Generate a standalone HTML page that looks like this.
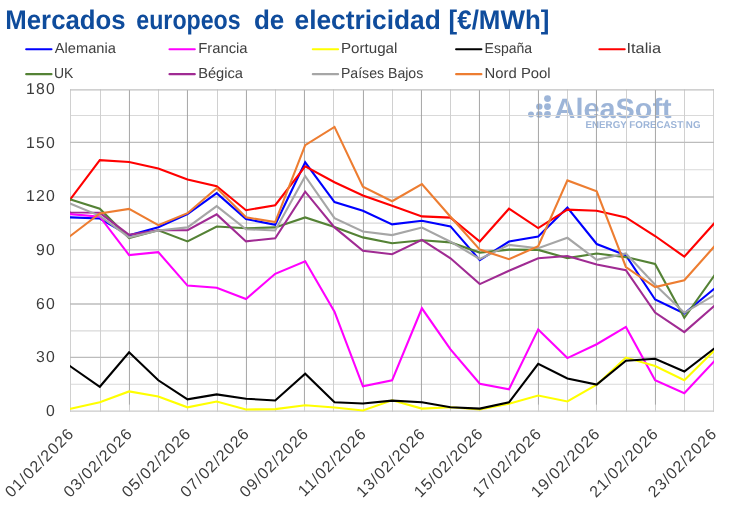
<!DOCTYPE html>
<html><head><meta charset="utf-8"><title>Mercados europeos de electricidad</title>
<style>
html,body{margin:0;padding:0;background:#fff;}
body{width:730px;height:509px;overflow:hidden;font-family:"Liberation Sans",sans-serif;}
svg{display:block;}
svg text{font-family:"Liberation Sans",sans-serif;text-rendering:geometricPrecision;}
</style></head><body>
<svg width="730" height="509" viewBox="0 0 730 509">
<rect width="730" height="509" fill="#ffffff"/>
<text y="29" font-size="26.8" font-weight="bold" fill="#0F4C9C"><tspan x="5.3" textLength="120.4" lengthAdjust="spacingAndGlyphs">Mercados</tspan> <tspan x="136.3" textLength="104.4" lengthAdjust="spacingAndGlyphs">europeos</tspan> <tspan x="253.9" textLength="30.4" lengthAdjust="spacingAndGlyphs">de</tspan> <tspan x="294.5" textLength="146.3" lengthAdjust="spacingAndGlyphs">electricidad</tspan> <tspan x="448.6" textLength="100.8" lengthAdjust="spacingAndGlyphs">[€/MWh]</tspan> </text>
<g fill="#9DB5D8"><circle cx="531.0" cy="114.5" r="3.0"/><circle cx="539.3" cy="106.6" r="3.2"/><circle cx="539.3" cy="114.5" r="3.2"/><circle cx="547.5" cy="98.6" r="3.4"/><circle cx="547.5" cy="106.6" r="3.4"/><circle cx="547.5" cy="114.5" r="3.4"/><text x="554.6" y="118.2" font-size="28" font-weight="bold" textLength="117" lengthAdjust="spacingAndGlyphs">AleaSoft</text><text x="585.5" y="127.8" font-size="9.9" font-weight="bold" textLength="115" lengthAdjust="spacingAndGlyphs">ENERGY FORECASTING</text></g>
<g fill="none"><line x1="70.0" x2="714.0" y1="115.44" y2="115.44" stroke="#D9D9D9" stroke-width="1.10"/><line x1="70.0" x2="714.0" y1="169.68" y2="169.68" stroke="#D9D9D9" stroke-width="1.10"/><line x1="70.0" x2="714.0" y1="223.10" y2="223.10" stroke="#D9D9D9" stroke-width="1.40"/><line x1="70.0" x2="714.0" y1="277.08" y2="277.08" stroke="#D9D9D9" stroke-width="1.40"/><line x1="70.0" x2="714.0" y1="330.86" y2="330.86" stroke="#D9D9D9" stroke-width="1.40"/><line x1="70.0" x2="714.0" y1="384.25" y2="384.25" stroke="#D9D9D9" stroke-width="1.20"/><line x1="70.50" x2="70.50" y1="89.2" y2="411.8" stroke="#D0D0D0" stroke-width="1"/><line x1="100.50" x2="100.50" y1="89.2" y2="411.8" stroke="#D0D0D0" stroke-width="1"/><line x1="158.50" x2="158.50" y1="89.2" y2="411.8" stroke="#D0D0D0" stroke-width="1"/><line x1="217.50" x2="217.50" y1="89.2" y2="411.8" stroke="#D0D0D0" stroke-width="1"/><line x1="275.50" x2="275.50" y1="89.2" y2="411.8" stroke="#D0D0D0" stroke-width="1"/><line x1="333.50" x2="333.50" y1="89.2" y2="411.8" stroke="#D0D0D0" stroke-width="1"/><line x1="392.50" x2="392.50" y1="89.2" y2="411.8" stroke="#D0D0D0" stroke-width="1"/><line x1="450.50" x2="450.50" y1="89.2" y2="411.8" stroke="#D0D0D0" stroke-width="1"/><line x1="509.50" x2="509.50" y1="89.2" y2="411.8" stroke="#D0D0D0" stroke-width="1"/><line x1="567.50" x2="567.50" y1="89.2" y2="411.8" stroke="#D0D0D0" stroke-width="1"/><line x1="626.50" x2="626.50" y1="89.2" y2="411.8" stroke="#D0D0D0" stroke-width="1"/><line x1="684.50" x2="684.50" y1="89.2" y2="411.8" stroke="#D0D0D0" stroke-width="1"/><line x1="713.50" x2="713.50" y1="89.2" y2="411.8" stroke="#D0D0D0" stroke-width="1"/><line x1="70.0" x2="714.0" y1="89.78" y2="89.78" stroke="#C0C0C0" stroke-width="1.30"/><line x1="70.0" x2="714.0" y1="142.43" y2="142.43" stroke="#BCBCBC" stroke-width="1.15"/><line x1="70.0" x2="714.0" y1="197.07" y2="197.07" stroke="#BCBCBC" stroke-width="1.40"/><line x1="70.0" x2="714.0" y1="249.85" y2="249.85" stroke="#BCBCBC" stroke-width="1.40"/><line x1="70.0" x2="714.0" y1="304.00" y2="304.00" stroke="#BCBCBC" stroke-width="1.50"/><line x1="70.0" x2="714.0" y1="357.37" y2="357.37" stroke="#BCBCBC" stroke-width="1.25"/><line x1="70.0" x2="714.0" y1="411.15" y2="411.15" stroke="#CACACA" stroke-width="1.30"/><line x1="129.50" x2="129.50" y1="404.8" y2="411.8" stroke="#D0D0D0" stroke-width="1"/><line x1="129.45" x2="129.45" y1="90.2" y2="404.8" stroke="#9C9C9C" stroke-width="0.9"/><line x1="187.50" x2="187.50" y1="404.8" y2="411.8" stroke="#D0D0D0" stroke-width="1"/><line x1="187.45" x2="187.45" y1="90.2" y2="404.8" stroke="#9C9C9C" stroke-width="0.9"/><line x1="246.50" x2="246.50" y1="404.8" y2="411.8" stroke="#D0D0D0" stroke-width="1"/><line x1="246.45" x2="246.45" y1="90.2" y2="404.8" stroke="#9C9C9C" stroke-width="0.9"/><line x1="304.50" x2="304.50" y1="404.8" y2="411.8" stroke="#D0D0D0" stroke-width="1"/><line x1="304.45" x2="304.45" y1="90.2" y2="404.8" stroke="#9C9C9C" stroke-width="0.9"/><line x1="363.50" x2="363.50" y1="404.8" y2="411.8" stroke="#D0D0D0" stroke-width="1"/><line x1="363.45" x2="363.45" y1="90.2" y2="404.8" stroke="#9C9C9C" stroke-width="0.9"/><line x1="421.50" x2="421.50" y1="404.8" y2="411.8" stroke="#D0D0D0" stroke-width="1"/><line x1="421.45" x2="421.45" y1="90.2" y2="404.8" stroke="#9C9C9C" stroke-width="0.9"/><line x1="479.50" x2="479.50" y1="404.8" y2="411.8" stroke="#D0D0D0" stroke-width="1"/><line x1="479.45" x2="479.45" y1="90.2" y2="404.8" stroke="#9C9C9C" stroke-width="0.9"/><line x1="538.50" x2="538.50" y1="404.8" y2="411.8" stroke="#D0D0D0" stroke-width="1"/><line x1="538.45" x2="538.45" y1="90.2" y2="404.8" stroke="#9C9C9C" stroke-width="0.9"/><line x1="596.50" x2="596.50" y1="404.8" y2="411.8" stroke="#D0D0D0" stroke-width="1"/><line x1="596.45" x2="596.45" y1="90.2" y2="404.8" stroke="#9C9C9C" stroke-width="0.9"/><line x1="655.50" x2="655.50" y1="404.8" y2="411.8" stroke="#D0D0D0" stroke-width="1"/><line x1="655.45" x2="655.45" y1="90.2" y2="404.8" stroke="#9C9C9C" stroke-width="0.9"/></g>
<clipPath id="plotclip"><rect x="70" y="85" width="644" height="330"/></clipPath><g fill="none" stroke-width="2.1" stroke-linejoin="miter" stroke-miterlimit="6" stroke-linecap="butt" clip-path="url(#plotclip)"><polyline stroke="#0000FF" points="68.6,217.4 70.6,217.4 99.8,218.5 129.1,235.3 158.3,227.3 187.5,214.1 216.7,193.2 246.0,219.1 275.2,224.8 305.2,162.3 334.5,202.1 362.9,210.7 392.1,224.4 421.9,220.8 450.5,226.4 479.8,260.1 509.0,241.5 538.2,236.5 567.4,207.5 596.7,244.0 625.9,255.3 655.1,299.5 684.3,313.5 713.6,289.3 715.6,287.7"/><polyline stroke="#FF00FF" points="68.6,213.9 70.6,214.1 99.8,216.7 129.1,255.1 158.3,252.1 187.5,285.6 216.7,287.7 246.0,299.0 275.2,273.8 305.2,261.3 334.5,311.7 362.9,386.3 392.1,380.3 421.9,308.3 450.5,349.4 479.8,383.7 509.0,389.3 538.2,329.4 567.4,358.1 596.7,344.2 625.9,326.9 655.1,380.3 684.3,393.2 713.6,362.0 715.6,359.9"/><polyline stroke="#FFFF00" points="68.6,409.2 70.6,408.8 99.8,402.2 129.1,391.4 158.3,396.4 187.5,407.3 216.7,401.5 246.0,409.5 275.2,409.1 305.2,405.2 334.5,407.5 362.9,410.5 392.1,400.3 421.9,408.6 450.5,407.2 479.8,409.5 509.0,403.8 538.2,395.5 567.4,401.5 596.7,384.7 625.9,357.6 655.1,366.0 684.3,380.3 713.6,351.2 715.6,349.2"/><polyline stroke="#000000" points="68.6,365.1 70.6,366.5 99.8,386.8 129.1,352.2 158.3,380.3 187.5,399.4 216.7,394.4 246.0,398.7 275.2,400.5 305.2,373.8 334.5,402.2 362.9,403.5 392.1,400.6 421.9,402.2 450.5,407.3 479.8,408.6 509.0,402.4 538.2,363.8 567.4,378.5 596.7,384.6 625.9,360.8 655.1,358.7 684.3,371.5 713.6,349.0 715.6,347.5"/><polyline stroke="#FF0000" points="68.6,201.6 70.6,198.9 99.8,160.2 129.1,162.0 158.3,168.6 187.5,179.5 216.7,186.2 246.0,210.2 275.2,205.2 305.2,166.3 334.5,182.2 362.9,195.5 392.1,205.7 421.9,216.4 450.5,217.6 479.8,241.5 509.0,208.7 538.2,228.1 567.4,209.6 596.7,210.7 625.9,217.4 655.1,236.0 684.3,256.7 713.6,224.0 715.6,221.8"/><polyline stroke="#548235" points="68.6,198.8 70.6,199.5 99.8,208.7 129.1,238.0 158.3,230.3 187.5,241.4 216.7,226.5 246.0,228.3 275.2,227.4 305.2,217.4 334.5,227.1 362.9,237.4 392.1,243.2 421.9,240.3 450.5,242.4 479.8,252.6 509.0,249.6 538.2,249.9 567.4,258.1 596.7,253.5 625.9,257.1 655.1,264.0 684.3,317.8 713.6,276.6 715.6,273.8"/><polyline stroke="#A02B93" points="68.6,212.2 70.6,212.3 99.8,212.8 129.1,234.9 158.3,230.3 187.5,230.1 216.7,214.4 246.0,241.4 275.2,238.2 305.2,191.7 334.5,227.4 362.9,250.7 392.1,254.2 421.9,239.9 450.5,258.3 479.8,284.1 509.0,270.8 538.2,258.3 567.4,256.0 596.7,264.5 625.9,270.2 655.1,312.6 684.3,332.1 713.6,306.5 715.6,304.7"/><polyline stroke="#A6A6A6" points="68.6,202.9 70.6,203.7 99.8,215.8 129.1,237.4 158.3,230.5 187.5,227.4 216.7,206.1 246.0,229.2 275.2,230.5 305.2,176.2 334.5,218.2 362.9,231.5 392.1,235.1 421.9,227.6 450.5,241.7 479.8,259.0 509.0,244.9 538.2,248.2 567.4,237.8 596.7,259.9 625.9,253.5 655.1,284.7 684.3,312.8 713.6,295.6 715.6,294.4"/><polyline stroke="#ED7D31" points="68.6,237.4 70.6,235.8 99.8,213.4 129.1,208.9 158.3,225.1 187.5,213.2 216.7,188.1 246.0,217.3 275.2,222.1 305.2,145.1 334.5,126.9 362.9,186.6 392.1,201.2 421.9,184.1 450.5,216.7 479.8,249.6 509.0,259.2 538.2,246.2 567.4,180.4 596.7,191.3 625.9,267.0 655.1,287.0 684.3,280.2 713.6,247.3 715.6,245.0"/></g>
<g font-size="15.8" fill="#3C3C3C" text-anchor="end" letter-spacing="1.2"><text x="56.0" y="416.0">0</text><text x="56.0" y="362.3">30</text><text x="56.0" y="308.7">60</text><text x="56.0" y="255.0">90</text><text x="56.0" y="201.3">120</text><text x="56.0" y="147.7">150</text><text x="56.0" y="94.0">180</text></g>
<g font-size="16" fill="#3C3C3C" text-anchor="end" letter-spacing="1.0"><text transform="translate(75.1,434.5) rotate(-45)" x="0" y="0">01/02/2026</text><text transform="translate(133.6,434.5) rotate(-45)" x="0" y="0">03/02/2026</text><text transform="translate(192.0,434.5) rotate(-45)" x="0" y="0">05/02/2026</text><text transform="translate(250.5,434.5) rotate(-45)" x="0" y="0">07/02/2026</text><text transform="translate(309.7,434.5) rotate(-45)" x="0" y="0">09/02/2026</text><text transform="translate(367.4,434.5) rotate(-45)" x="0" y="0">11/02/2026</text><text transform="translate(426.4,434.5) rotate(-45)" x="0" y="0">13/02/2026</text><text transform="translate(484.2,434.5) rotate(-45)" x="0" y="0">15/02/2026</text><text transform="translate(542.7,434.5) rotate(-45)" x="0" y="0">17/02/2026</text><text transform="translate(601.2,434.5) rotate(-45)" x="0" y="0">19/02/2026</text><text transform="translate(659.6,434.5) rotate(-45)" x="0" y="0">21/02/2026</text><text transform="translate(718.1,434.5) rotate(-45)" x="0" y="0">23/02/2026</text></g>
<g font-size="14.5" fill="#404040"><line x1="26.2" x2="51.5" y1="49.20" y2="49.20" stroke="#0000FF" stroke-width="2.1" stroke-linecap="round"/><text x="54.8" y="53.2" textLength="61.0" lengthAdjust="spacingAndGlyphs">Alemania</text><line x1="169.5" x2="194.8" y1="49.20" y2="49.20" stroke="#FF00FF" stroke-width="2.1" stroke-linecap="round"/><text x="198.2" y="53.2" textLength="49.4" lengthAdjust="spacingAndGlyphs">Francia</text><line x1="312.8" x2="338.1" y1="49.20" y2="49.20" stroke="#FFFF00" stroke-width="2.1" stroke-linecap="round"/><text x="340.9" y="53.2" textLength="56.5" lengthAdjust="spacingAndGlyphs">Portugal</text><line x1="456.1" x2="481.4" y1="49.20" y2="49.20" stroke="#000000" stroke-width="2.1" stroke-linecap="round"/><text x="484.6" y="53.2" textLength="47.5" lengthAdjust="spacingAndGlyphs">España</text><line x1="599.4" x2="624.7" y1="49.20" y2="49.20" stroke="#FF0000" stroke-width="2.1" stroke-linecap="round"/><text x="626.5" y="53.2" textLength="34.5" lengthAdjust="spacingAndGlyphs">Italia</text><line x1="26.2" x2="51.5" y1="74.15" y2="74.15" stroke="#548235" stroke-width="2.1" stroke-linecap="round"/><text x="54.0" y="78.0" textLength="19.4" lengthAdjust="spacingAndGlyphs">UK</text><line x1="169.5" x2="194.8" y1="74.15" y2="74.15" stroke="#A02B93" stroke-width="2.1" stroke-linecap="round"/><text x="198.2" y="78.0" textLength="44.8" lengthAdjust="spacingAndGlyphs">Bégica</text><line x1="312.8" x2="338.1" y1="74.15" y2="74.15" stroke="#A6A6A6" stroke-width="2.1" stroke-linecap="round"/><text x="340.9" y="78.0" textLength="82.4" lengthAdjust="spacingAndGlyphs">Países Bajos</text><line x1="456.1" x2="481.4" y1="74.15" y2="74.15" stroke="#ED7D31" stroke-width="2.1" stroke-linecap="round"/><text x="484.6" y="78.0" textLength="66.0" lengthAdjust="spacingAndGlyphs">Nord Pool</text></g>
</svg>
</body></html>
